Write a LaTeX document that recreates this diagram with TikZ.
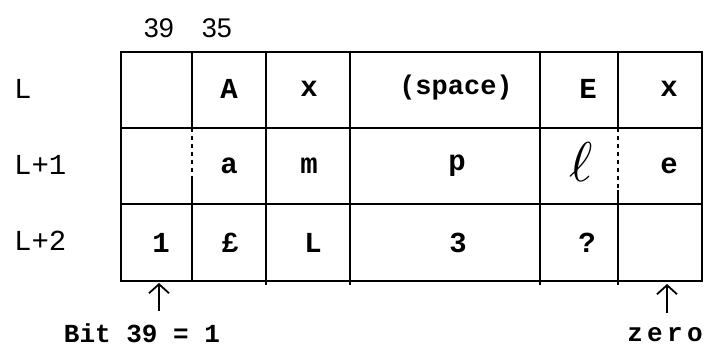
\documentclass[tikz,border=0pt]{standalone}
\usepackage{fontspec}
\usepackage{graphicx}
\setmainfont{Liberation Mono}
\newfontfamily\numfont{Liberation Sans}
\usetikzlibrary{arrows.meta}
\begin{document}
\begin{tikzpicture}[x=1pt,y=-1pt,
  grid/.style={line width=2.2pt},
  faint/.style={line width=1.6pt,dash pattern=on 4pt off 4pt},
  cell/.style={font=\fontsize{29}{29}\selectfont\bfseries,inner sep=0pt},
  celltxt/.style={font=\fontsize{27}{27}\selectfont\bfseries,inner sep=0pt},
  rowlab/.style={font=\fontsize{29}{29}\selectfont,inner sep=0pt,anchor=west},
  bitnum/.style={font=\numfont\fontsize{27}{27}\selectfont,inner sep=0pt},
  pointer/.style={line width=1.8pt,-{Straight Barb[length=9pt,width=20pt,line width=1.8pt]}}]
\useasboundingbox (0,0) rectangle (705,350);
% grid
\draw[grid] (121,52) rectangle (702,281);
\draw[grid] (121,128) -- (702,128);
\draw[grid] (121,204) -- (702,204);
\draw[grid] (192,52) -- (192,128);
\draw[faint] (192,128) -- (192,180);
\draw[grid] (192,180) -- (192,281);
\draw[grid] (266,52) -- (266,285);
\draw[grid] (350,52) -- (350,285);
\draw[grid] (540,52) -- (540,285);
\draw[grid] (618,52) -- (618,128);
\draw[faint] (618,128) -- (618,190);
\draw[grid] (618,190) -- (618,285);
% column numbers
\node[bitnum] (n39) at (159,28) {39};
\node[bitnum] (n35) at (217,28) {35};
% row labels
\node[rowlab] (rL) at (14,89) {L};
\node[rowlab] (rL1) at (14,165) {L+1};
\node[rowlab] (rL2) at (14,241) {L+2};
% row L
\node[cell] (cA) at (229,89) {A};
\node[cell] (cx1) at (309,89) {x};
\node[celltxt] (csp) at (456,88) {(space)};
\node[cell] (cE) at (588,89) {E};
\node[cell] (cx2) at (669,89) {x};
% row L+1
\node[cell] (ca) at (229,166) {a};
\node[cell] (cm) at (309,166) {m};
\node[cell] (cp) at (457,166) {p};
\node[inner sep=0pt] (cl) at (581,162) {\scalebox{5.6}{$\ell$}};
\node[cell] (ce) at (669,166) {e};
% row L+2
\node[cell] (c1) at (161,243) {1};
\node[cell] (cpound) at (230,243) {£};
\node[cell] (cL) at (313,243) {L};
\node[cell] (c3) at (458,243) {3};
\node[cell] (cq) at (587,243) {?};
% pointers
\node[celltxt,font=\fontsize{26}{26}\selectfont\bfseries] (bit) at (142,333) {Bit 39 = 1};
\node[celltxt,font=\fontsize{26}{26}\selectfont\bfseries] (zero) at (665,335) {z\,e\,r\,o};
\coordinate (t1) at (159,283);
\coordinate (t2) at (667,284);
\draw[pointer] (159,311) -- (t1);
\draw[pointer] (667,313) -- (t2);
\end{tikzpicture}
\end{document}
